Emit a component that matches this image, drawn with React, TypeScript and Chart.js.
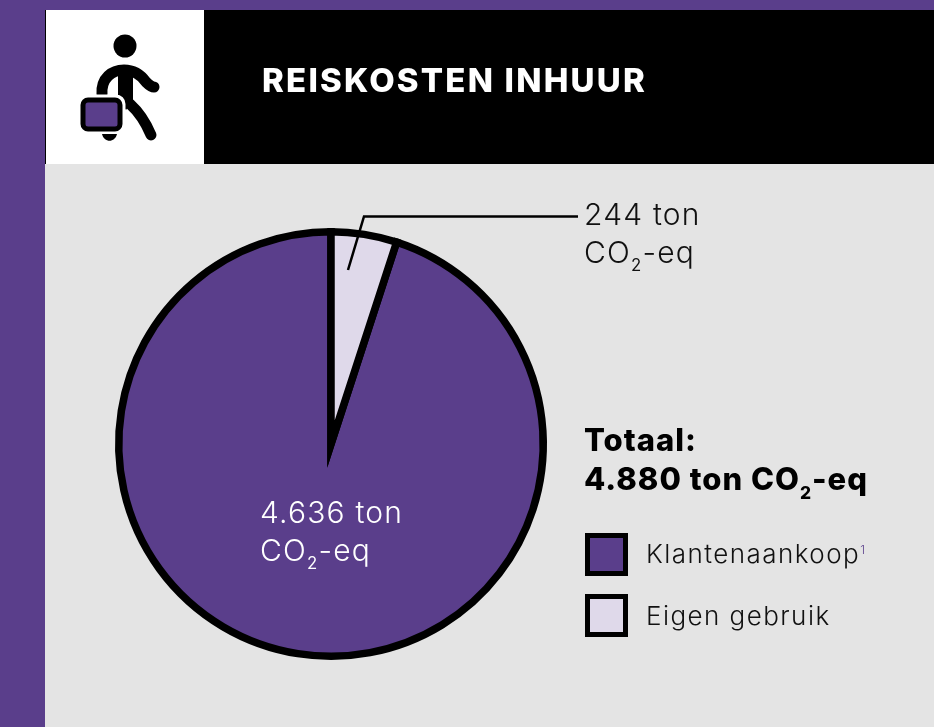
import React, { useEffect, useRef } from "react";
import { Chart, registerables } from "chart.js";

Chart.register(...registerables);

const title = "REISKOSTEN INHUUR";
const categories = ["Klantenaankoop", "Eigen gebruik"];
const values = [4636, 244];
const colors = ["#5a3e8b", "#dfd9ea"];
const valueLabels = ["4.636 ton", "244 ton"];
const unitStart = "CO";
const unitSub = "2";
const unitEnd = "-eq";
const totalLabel = "Totaal:";
const totalValue = "4.880 ton";

const FONT = "Inter, 'Noto Sans', sans-serif";
const PURPLE = "#5a3e8b";

const abs = (left: number, top: number, extra: React.CSSProperties = {}): React.CSSProperties => ({
  position: "absolute",
  left,
  top,
  whiteSpace: "nowrap",
  fontFamily: FONT,
  ...extra,
});

function Unit({ bold }: { bold?: boolean }) {
  return (
    <span>
      {unitStart}
      <span style={{ fontSize: "0.56em", position: "relative", top: "0.5em", lineHeight: 0, fontWeight: bold ? 800 : 400 }}>{unitSub}</span>
      {unitEnd}
    </span>
  );
}

export default function App() {
  const ref = useRef<HTMLCanvasElement>(null);
  useEffect(() => {
    const chart = new Chart(ref.current!, {
      type: "pie",
      data: {
        labels: categories,
        datasets: [
          {
            data: values,
            backgroundColor: colors,
            borderColor: "#000000",
            borderWidth: 7.5,
            borderAlign: "center",
            borderJoinStyle: "miter",
          } as any,
        ],
      },
      options: {
        responsive: false,
        animation: false,
        rotation: 18,
        layout: { padding: { left: 115, right: 387, top: 228, bottom: 67 } },
        plugins: { legend: { display: false }, tooltip: { enabled: false } },
      },
    });
    return () => chart.destroy();
  }, []);

  const labelStyle: React.CSSProperties = { fontSize: 30, lineHeight: "38px", fontWeight: 300, letterSpacing: 1.2 };
  const boldStyle: React.CSSProperties = { fontSize: 31, lineHeight: "39px", fontWeight: 800, color: "#000", letterSpacing: 1 };
  const legendText: React.CSSProperties = { fontSize: 26, lineHeight: "30px", fontWeight: 300, color: "#111", letterSpacing: 1.45 };

  return (
    <div style={{ position: "fixed", left: 0, top: 0, width: 934, height: 727, overflow: "hidden", background: PURPLE }}>
      <div style={{ position: "absolute", left: 45, top: 164, width: 889, height: 563, background: "#e4e4e4" }} />
      <div style={{ position: "absolute", left: 45, top: 10, width: 889, height: 154, background: "#000" }} />
      <div style={{ position: "absolute", left: 46, top: 10, width: 158, height: 154, background: "#fff" }} />
      <svg width={934} height={727} style={{ position: "absolute", left: 0, top: 0 }}>
        <circle cx={125} cy={46} r={11.5} fill="#000" />
        <path d="M102 94 C101 78 112 70 124 70 C134 70 141 75 146 82 C149 85 152 87 154 87" fill="none" stroke="#000" strokeWidth={11} strokeLinecap="round" />
        <path d="M118 72 L133 72 L133 100 L126 110 L118 100 Z" fill="#000" />
        <path d="M130 104 C140 113 146 123 151 135" fill="none" stroke="#000" strokeWidth={11} strokeLinecap="round" />
        <rect x={80} y={96} width={44} height={36} rx={8} fill="#fff" stroke="#fff" strokeWidth={3} />
        <rect x={83} y={100} width={37} height={29} rx={5} fill={PURPLE} stroke="#000" strokeWidth={5} />
        <path d="M102 134 L117 134 C115 143 104 143 102 134 Z" fill="#000" />
      </svg>
      <canvas ref={ref} width={934} height={727} style={{ position: "absolute", left: 0, top: 0, width: 934, height: 727 }} />
      <svg width={934} height={727} style={{ position: "absolute", left: 0, top: 0, pointerEvents: "none" }}>
        <path d="M348 270 L364 216.5 L578 216.5" fill="none" stroke="#000" strokeWidth={2.5} />
      </svg>

      <div style={abs(262, 60, { color: "#fff", fontSize: 33, lineHeight: "40px", fontWeight: 800, letterSpacing: 2.2 })}>{title}</div>

      <div style={abs(584, 195, { ...labelStyle, color: "#111" })}>
        {valueLabels[1]}
        <br />
        <Unit />
      </div>
      <div style={abs(260, 493, { ...labelStyle, color: "#fff" })}>
        {valueLabels[0]}
        <br />
        <Unit />
      </div>

      <div style={abs(584, 420, boldStyle)}>
        {totalLabel}
        <br />
        {totalValue} <Unit bold />
      </div>

      <div style={{ position: "absolute", left: 585, top: 533, width: 43, height: 43, boxSizing: "border-box", border: "5px solid #000", background: colors[0] }} />
      <div style={{ position: "absolute", left: 585, top: 594, width: 43, height: 43, boxSizing: "border-box", border: "5px solid #000", background: colors[1] }} />
      <div style={abs(646, 539, legendText)}>
        {categories[0]}
        <span style={{ fontSize: 12, position: "relative", top: -9, color: PURPLE, letterSpacing: 0, lineHeight: 0 }}>1</span>
      </div>
      <div style={abs(646, 601, legendText)}>{categories[1]}</div>
    </div>
  );
}
